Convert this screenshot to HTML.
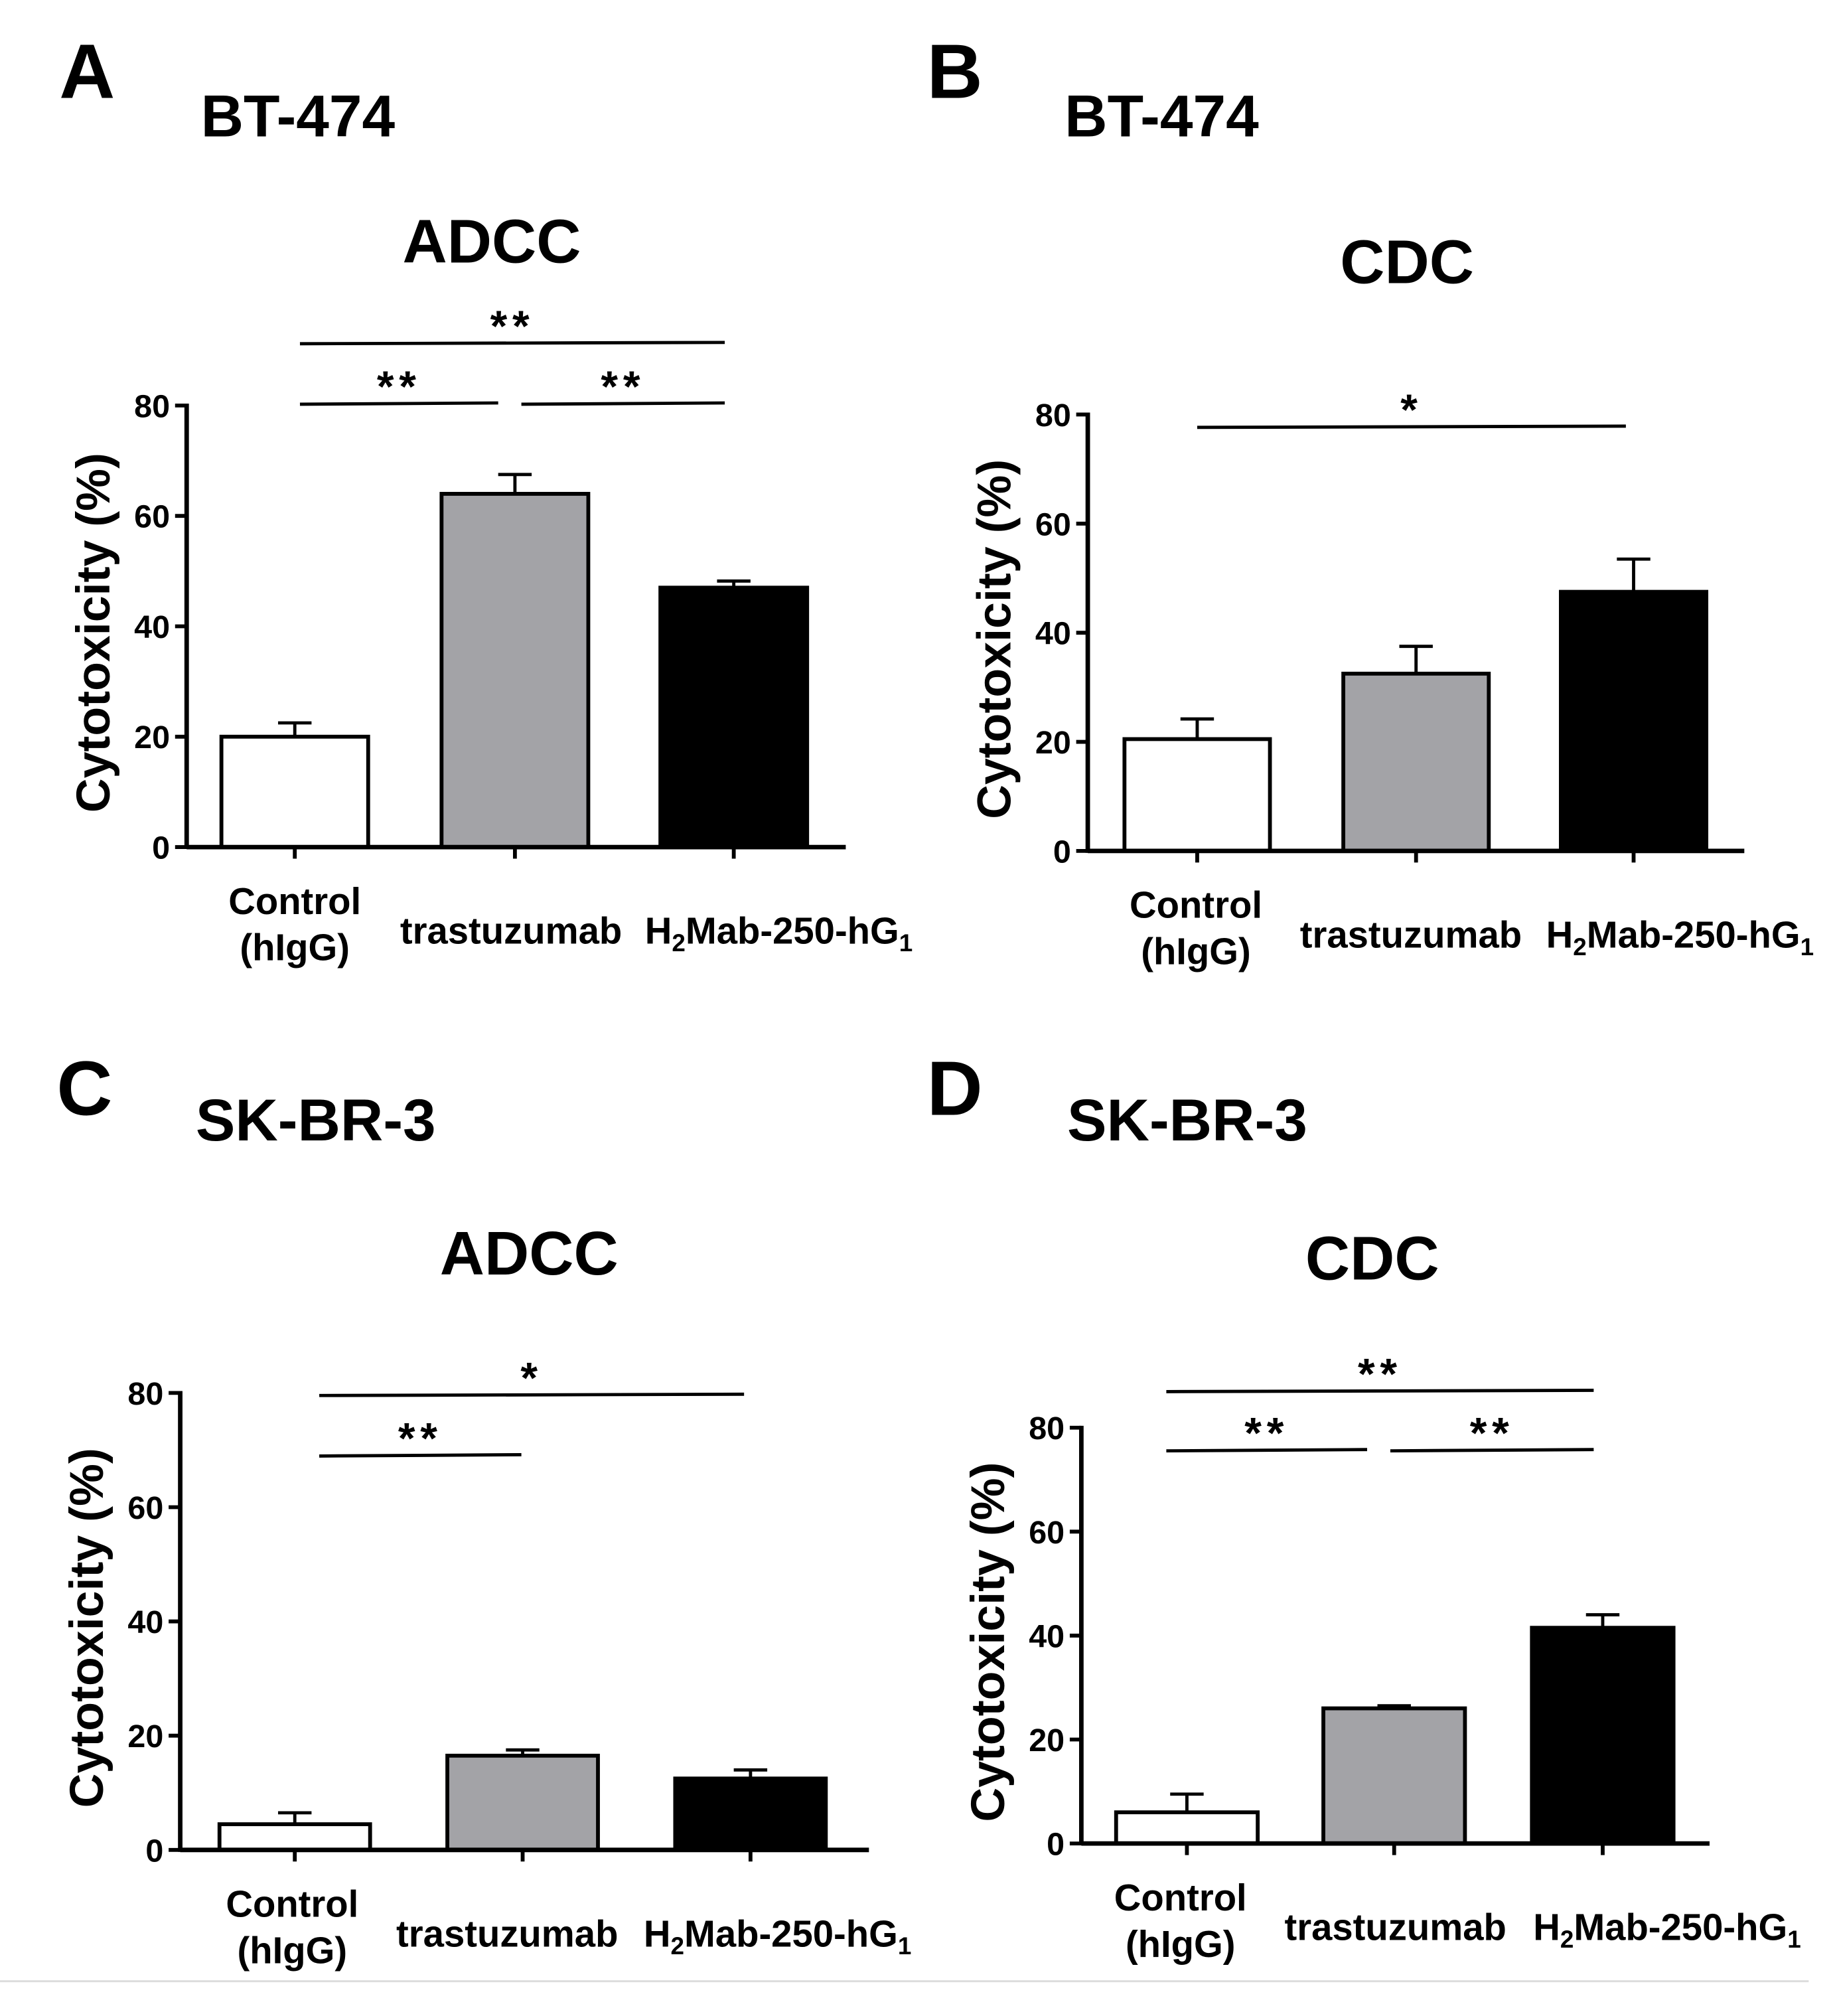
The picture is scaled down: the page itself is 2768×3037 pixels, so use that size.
<!DOCTYPE html>
<html><head><meta charset="utf-8"><style>
html,body{margin:0;padding:0;background:#fff}
svg{display:block}
text{font-family:"Liberation Sans",Arial,sans-serif;font-weight:bold;fill:#000}
</style></head><body>
<svg id="fig" xmlns="http://www.w3.org/2000/svg" width="2768" height="3037" viewBox="0 0 1427 1566" preserveAspectRatio="none">
<line x1="0" y1="1539" x2="1405" y2="1539" stroke="#ddd" stroke-width="1.5"/>
</svg>
<script>
const categories = ["Control (hIgG)", "trastuzumab", "H2Mab-250-hG1"];
const yTicks = [0, 20, 40, 60, 80];
const valuesA = [20, 64, 47];
const errorsA = [2.5, 3.5, 1.2];
const valuesB = [20.5, 32.5, 47.5];
const errorsB = [3.7, 5, 6];
const valuesC = [4.5, 16.5, 12.5];
const errorsC = [2, 1, 1.5];
const valuesD = [6, 26, 41.5];
const errorsD = [3.5, 0.5, 2.5];
const sigA = [[0, 2, "**"], [0, 1, "**"], [1, 2, "**"]];
const sigB = [[0, 2, "*"]];
const sigC = [[0, 2, "*"], [0, 1, "**"]];
const sigD = [[0, 2, "**"], [0, 1, "**"], [1, 2, "**"]];

const svg = document.getElementById('fig');
const NS = "http://www.w3.org/2000/svg";
function mk(tag, attrs, txt) {
  const e = document.createElementNS(NS, tag);
  for (const k in attrs) e.setAttribute(k, attrs[k]);
  if (txt !== undefined) e.textContent = txt;
  svg.appendChild(e);
  return e;
}
const fills = ["#fff", "#a3a3a7", "#000"];

function panel(p, values, errors, sigs) {
  const y = v => p.y0 - (v / 80) * (p.y0 - p.y80);
  const bw = p.bw;
  let t;
  t = mk('text', {x: p.letterX, y: p.letterY, 'font-size': 60}, p.letter);
  
  
  t = mk('text', {x: p.cellX, y: p.cellY, 'font-size': 46}, p.cell);
  
  
  t = mk('text', {x: p.titleX, y: p.titleY, 'font-size': 48, 'text-anchor': 'middle'}, p.title);
  
  
  values.forEach((v, i) => {
    const cx = p.cx[i];
    const top = y(v + errors[i]);
    let l = mk('line', {x1: cx, y1: top, x2: cx, y2: y(v), stroke: '#000', 'stroke-width': 2.5});
    
    
    l = mk('line', {x1: cx - 13, y1: top, x2: cx + 13, y2: top, stroke: '#000', 'stroke-width': 2.5});
    
    
    const r = mk('rect', {x: cx - bw / 2, y: y(v), width: bw, height: y(0) - y(v), fill: fills[i], stroke: '#000', 'stroke-width': 3});
    
    
    l = mk('line', {x1: cx, y1: p.y0, x2: cx, y2: p.y0 + 9, stroke: '#000', 'stroke-width': 3});
    
    
  });
  let a = mk('line', {x1: p.ax, y1: p.y80 - 1.5, x2: p.ax, y2: p.y0 + 1.5, stroke: '#000', 'stroke-width': 3.5});
  
  
  a = mk('line', {x1: p.ax, y1: p.y0, x2: p.axEnd, y2: p.y0, stroke: '#000', 'stroke-width': 3.5});
  
  
  yTicks.forEach(v => {
    let l = mk('line', {x1: p.ax - 9, y1: y(v), x2: p.ax, y2: y(v), stroke: '#000', 'stroke-width': 3});
    
    
    let tt = mk('text', {x: p.ax - 13, y: y(v) + 9, 'font-size': 25, 'text-anchor': 'end'}, String(v));
    
    
  });
  t = mk('text', {x: 0, y: 0, 'font-size': 37, 'text-anchor': 'middle', transform: `translate(${p.ax - 60},${(p.y0 + p.y80) / 2 + 5}) rotate(-90)`}, 'Cytotoxicity (%)');
  
  
  const lx = p.labelX;
  t = mk('text', {x: lx[0], y: p.y0 + 52, 'font-size': 29, 'text-anchor': 'middle'}, 'Control');
  
  
  t = mk('text', {x: lx[0], y: p.y0 + 88, 'font-size': 29, 'text-anchor': 'middle'}, '(hIgG)');
  
  
  t = mk('text', {x: lx[1], y: p.y0 + 75, 'font-size': 29, 'text-anchor': 'middle'}, 'trastuzumab');
  
  
  t = mk('text', {x: lx[2], y: p.y0 + 75, 'font-size': 29, 'text-anchor': 'middle'});
  t.innerHTML = 'H<tspan font-size="19" dy="6">2</tspan><tspan dy="-6">Mab-250-hG</tspan><tspan font-size="19" dy="6">1</tspan>';
  
  
  sigs.forEach((s, k) => {
    const full = s[1] - s[0] === 2;
    const ly = full ? p.sigTop : p.sigLow;
    let x1 = p.sigX[s[0]], x2 = p.sigX[s[1]];
    if (!full && s[0] === 0 && sigs.length === 3) x2 -= 10;
    if (!full && s[0] === 1) x1 = p.sigX[1] + 8;
    let l = mk('line', {x1: x1, y1: ly, x2: x2, y2: ly - 1, stroke: '#000', 'stroke-width': 2.5});
    
    
    let tt = mk('text', {x: (x1 + x2) / 2, y: ly - 2, 'font-size': 34, 'letter-spacing': 4, 'text-anchor': 'middle'}, s[2]);
    
    
  });
}

panel({letter: 'A', letterX: 46, letterY: 76, cell: 'BT-474', cellX: 156, cellY: 106, title: 'ADCC', titleX: 382, titleY: 204,
  ax: 145, axEnd: 657, y0: 658, y80: 315, bw: 114, cx: [229, 400, 570], labelX: [229, 397, 605],
  sigTop: 267, sigLow: 314, sigX: [233, 397, 563]}, valuesA, errorsA, sigA);
panel({letter: 'B', letterX: 720, letterY: 76, cell: 'BT-474', cellX: 827, cellY: 106, title: 'CDC', titleX: 1093, titleY: 220,
  ax: 845, axEnd: 1355, y0: 661, y80: 322, bw: 113, cx: [930, 1100, 1269], labelX: [929, 1096, 1305],
  sigTop: 332, sigLow: 332, sigX: [930, 1096, 1263]}, valuesB, errorsB, sigB);
panel({letter: 'C', letterX: 44, letterY: 866, cell: 'SK-BR-3', cellX: 152, cellY: 886, title: 'ADCC', titleX: 411, titleY: 990,
  ax: 140, axEnd: 675, y0: 1437, y80: 1082, bw: 117, cx: [229, 406, 583], labelX: [227, 394, 604],
  sigTop: 1084, sigLow: 1131, sigX: [248, 405, 578]}, valuesC, errorsC, sigC);
panel({letter: 'D', letterX: 720, letterY: 866, cell: 'SK-BR-3', cellX: 829, cellY: 886, title: 'CDC', titleX: 1066, titleY: 994,
  ax: 840, axEnd: 1328, y0: 1432, y80: 1109, bw: 110, cx: [922, 1083, 1245], labelX: [917, 1084, 1295],
  sigTop: 1081, sigLow: 1127, sigX: [906, 1072, 1238]}, valuesD, errorsD, sigD);
</script>
</body></html>
